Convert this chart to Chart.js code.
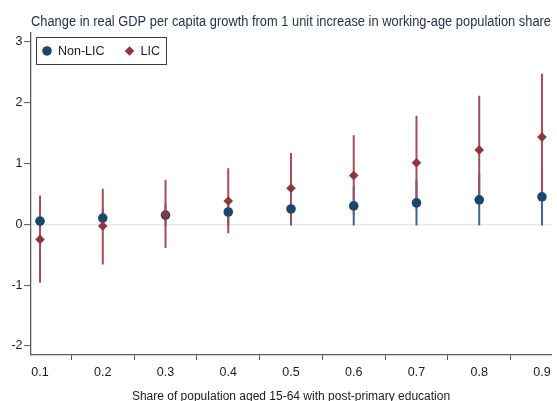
<!DOCTYPE html>
<html>
<head>
<meta charset="utf-8">
<script src="https://cdn.jsdelivr.net/npm/chart.js@4/dist/chart.umd.min.js"></script>
<style>
  html, body { margin: 0; padding: 0; background: #ffffff; }
  #wrap { width: 557px; height: 401px; }
</style>
</head>
<body>
<div id="wrap"><canvas id="chart" width="557" height="401"></canvas></div>
<script>
// Share of population aged 15-64 with post-primary education
const educationShare = [0.1, 0.2, 0.3, 0.4, 0.5, 0.6, 0.7, 0.8, 0.9];

// Non-LIC: marginal effect and confidence interval
const nonLicEffect = [0.05, 0.10, 0.15, 0.20, 0.25, 0.30, 0.35, 0.40, 0.45];
const nonLicLower  = [-0.08, -0.06, -0.04, -0.03, -0.02, -0.02, -0.02, -0.02, -0.02];
const nonLicUpper  = [0.18, 0.26, 0.34, 0.43, 0.52, 0.62, 0.72, 0.82, 0.92];

// LIC: marginal effect and confidence interval
const licEffect = [-0.25, -0.03, 0.16, 0.38, 0.59, 0.80, 1.01, 1.22, 1.43];
const licLower  = [-0.96, -0.66, -0.39, -0.15, 0.03, 0.15, 0.25, 0.33, 0.39];
const licUpper  = [0.47, 0.58, 0.73, 0.92, 1.17, 1.46, 1.78, 2.11, 2.47];

const xTickValues = [0.1, 0.2, 0.3, 0.4, 0.5, 0.6, 0.7, 0.8, 0.9];
const xTickLabels = ['0.1', '0.2', '0.3', '0.4', '0.5', '0.6', '0.7', '0.8', '0.9'];
const yTickValues = [-2, -1, 0, 1, 2, 3];
const yTickLabels = ['-2', '-1', '0', '1', '2', '3'];

const NAVY = '#1a476f';
const MAROON = '#90353b';
const FONT = "'Liberation Sans', Arial, sans-serif";

const points = (ys) => educationShare.map((x, i) => ({ x, y: ys[i] }));
const intervals = (lo, hi) => educationShare.map((x, i) => ({ x, y: [lo[i], hi[i]] }));

// Legend drawn inside the plot area, framed by a thin box
const boxedLegend = {
  id: 'boxedLegend',
  afterDatasetsDraw(chart, args, opts) {
    const { ctx, chartArea } = chart;
    const items = chart.data.datasets.filter(ds => ds.inLegend);
    const x0 = chartArea.left + opts.offsetX;
    const y0 = chartArea.top + opts.offsetY;
    const midY = y0 + opts.height / 2;
    ctx.save();
    ctx.font = opts.font;
    ctx.textBaseline = 'middle';
    ctx.textAlign = 'left';
    let cursor = x0 + opts.padStart;
    const drawn = [];
    items.forEach((ds, i) => {
      const markerX = cursor;
      const textX = markerX + opts.markerGap;
      const w = ctx.measureText(ds.label).width;
      drawn.push({ ds, markerX, textX });
      cursor = textX + w + opts.itemGap;
      if (i === items.length - 1) cursor = textX + w;
    });
    const boxW = cursor + opts.padEnd - x0;
    ctx.fillStyle = '#ffffff';
    ctx.fillRect(x0, y0, boxW, opts.height);
    ctx.strokeStyle = opts.borderColor;
    ctx.lineWidth = 1;
    ctx.strokeRect(Math.round(x0) + 0.5, Math.round(y0) + 0.5, Math.round(boxW), opts.height);
    drawn.forEach(({ ds, markerX, textX }) => {
      ctx.fillStyle = ds.backgroundColor;
      Chart.helpers.drawPoint(ctx, {
        pointStyle: ds.pointStyle, rotation: 0, radius: ds.pointRadius, borderWidth: 0
      }, markerX, midY);
      ctx.fillStyle = opts.color;
      ctx.fillText(ds.label, textX, midY + 0.5);
    });
    ctx.restore();
  }
};

new Chart(document.getElementById('chart'), {
  type: 'bar',
  data: {
    datasets: [
      {
        type: 'scatter', label: 'Non-LIC', inLegend: true, data: points(nonLicEffect),
        pointStyle: 'circle', pointRadius: 4.8, backgroundColor: NAVY, borderWidth: 0, order: 1
      },
      {
        type: 'scatter', label: 'LIC', inLegend: true, data: points(licEffect),
        pointStyle: 'rectRot', pointRadius: 4.8, backgroundColor: MAROON, borderWidth: 0, order: 0
      },
      {
        label: 'Non-LIC interval', data: intervals(nonLicLower, nonLicUpper),
        backgroundColor: '#3d6790', barThickness: 2, inflateAmount: 0, grouped: false, order: 3
      },
      {
        label: 'LIC interval', data: intervals(licLower, licUpper),
        backgroundColor: '#a54e57', barThickness: 2, inflateAmount: 0, grouped: false, order: 2
      }
    ]
  },
  options: {
    responsive: false,
    animation: false,
    events: [],
    layout: { padding: { top: 0, right: 6, bottom: 0, left: 0 } },
    plugins: {
      legend: { display: false },
      tooltip: { enabled: false },
      title: {
        display: true,
        fullSize: false,
        text: 'Change in real GDP per capita growth from 1 unit increase in working-age population share',
        color: '#26324f',
        font: { family: FONT, size: 15.4, weight: 'normal' },
        padding: { top: 13, bottom: 1 }
      },
      boxedLegend: {
        offsetX: 5, offsetY: 5, height: 27, padStart: 11, markerGap: 11, itemGap: 25, padEnd: 6,
        font: "12.5px " + FONT, color: '#1b1b1b', borderColor: '#3a3a3a'
      }
    },
    scales: {
      x: {
        type: 'linear',
        min: 0.0856, max: 0.9144,
        offset: false,
        afterBuildTicks: (axis) => { axis.ticks = xTickValues.map(v => ({ value: v })); },
        afterFit: (axis) => { axis.height = 46; },
        ticks: {
          autoSkip: false, maxRotation: 0, padding: 5,
          color: '#1b1b1b',
          font: { family: FONT, size: 12.5 },
          callback: (v, i) => xTickLabels[i]
        },
        grid: { display: true, color: 'rgba(0,0,0,0)', drawOnChartArea: false, tickLength: 5, tickColor: '#555555', tickWidth: 1 },
        border: { display: true, color: '#5c5c5c', width: 1.3 },
        title: {
          display: true,
          text: 'Share of population aged 15-64 with post-primary education',
          color: '#1b1b1b',
          font: { family: FONT, size: 12, lineHeight: 0.8 },
          padding: { top: 0, bottom: 0 }
        }
      },
      y: {
        type: 'linear',
        min: -2.1475, max: 3.1475,
        afterBuildTicks: (axis) => { axis.ticks = yTickValues.map(v => ({ value: v })); },
        afterFit: (axis) => { axis.width = 31; },
        ticks: {
          padding: 1.5,
          color: '#1b1b1b',
          font: { family: FONT, size: 12.5 },
          callback: (v, i) => yTickLabels[i]
        },
        grid: {
          display: true,
          color: (ctx) => (ctx.tick && ctx.tick.value === 0 ? '#dde9ea' : 'rgba(0,0,0,0)'),
          lineWidth: 1.2,
          tickLength: 7, tickColor: '#555555', tickWidth: 1
        },
        border: { display: true, color: '#5c5c5c', width: 1.3 }
      }
    }
  },
  plugins: [boxedLegend]
});
</script>
</body>
</html>
